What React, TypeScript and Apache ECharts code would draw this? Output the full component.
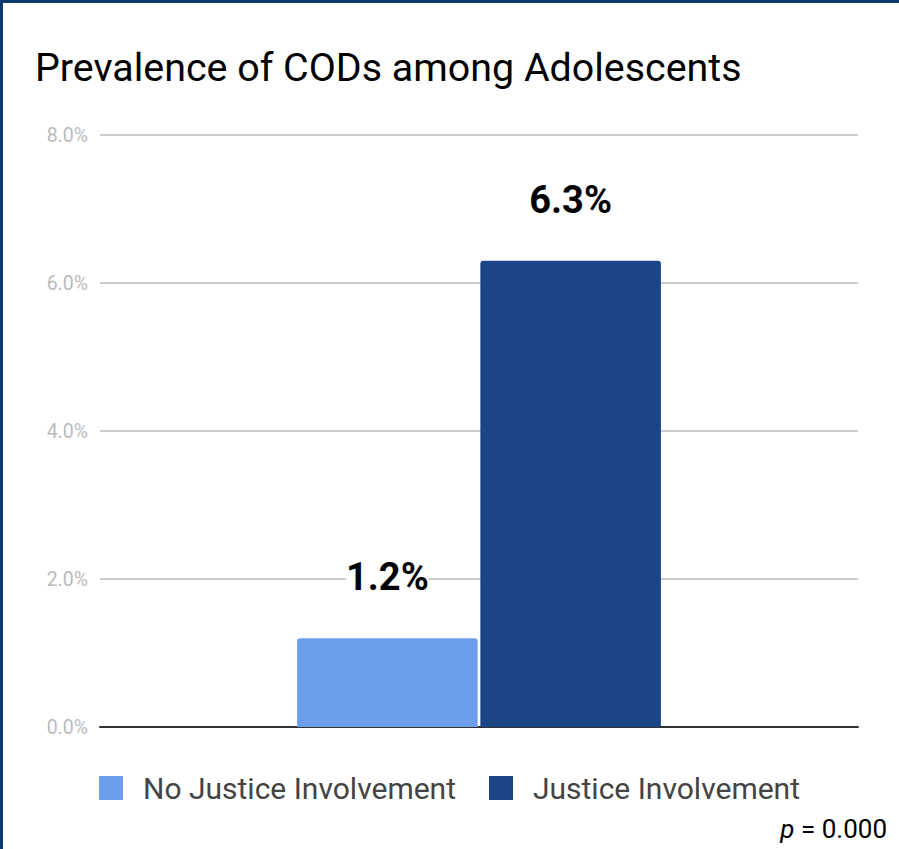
import React, { useEffect, useRef } from "react";
import * as echarts from "echarts";

const categories = ["Adolescents"];
const seriesNames = ["No Justice Involvement", "Justice Involvement"];
const noJustice = [1.2];
const justice = [6.3];
const yTicks = [0, 2, 4, 6, 8];
const colors = ["#6d9eeb", "#1c4587"];

export default function App() {
  const ref = useRef<HTMLDivElement>(null);
  useEffect(() => {
    if (!ref.current) return;
    const chart = echarts.init(ref.current, undefined, { renderer: "svg" });
    const font = "Roboto";
    const labelCfg = {
      show: true,
      position: "top" as const,
      distance: 46,
      formatter: (p: any) => Number(p.value).toFixed(1) + "%",
      fontFamily: font,
      fontWeight: "bold" as const,
      fontSize: 38,
      color: "#000",
      backgroundColor: "#fff",
      padding: [0, 0, 0, 0],
      lineHeight: 30,
    };
    chart.setOption({
      animation: false,
      backgroundColor: "#fff",
      textStyle: { fontFamily: font },
      title: {
        text: "Prevalence of CODs among Adolescents",
        left: 30,
        top: 43,
        textStyle: { fontFamily: font, fontSize: 39.4, fontWeight: "normal", color: "#000" },
      },
      legend: {
        left: 94,
        top: 768,
        itemWidth: 24,
        itemHeight: 24,
        itemGap: 33,
        icon: "rect",
        data: seriesNames,
        textStyle: { fontFamily: font, fontSize: 30, color: "#444", padding: [0, 0, 0, 15] },
      },
      grid: { left: 100, right: 41, top: 135, bottom: 122, containLabel: false },
      xAxis: {
        type: "category",
        data: categories,
        axisLabel: { show: false },
        axisTick: { show: false },
        axisLine: { lineStyle: { color: "#333", width: 2 } },
      },
      yAxis: {
        type: "value",
        min: yTicks[0],
        max: yTicks[yTicks.length - 1],
        interval: 2,
        axisLabel: {
          formatter: (v: number) => v.toFixed(1) + "%",
          fontFamily: font,
          fontSize: 19.5,
          color: "#bbbbbb",
          margin: 12,
        },
        splitLine: { lineStyle: { color: "#cccccc", width: 2 } },
        axisLine: { show: false },
        axisTick: { show: false },
      },
      series: [
        {
          name: seriesNames[0],
          type: "bar",
          data: noJustice,
          barGap: "1.5%",
          barCategoryGap: "52%",
          itemStyle: { color: colors[0], borderRadius: [3, 3, 0, 0] },
          label: labelCfg,
        },
        {
          name: seriesNames[1],
          type: "bar",
          data: justice,
          itemStyle: { color: colors[1], borderRadius: [3, 3, 0, 0] },
          label: labelCfg,
        },
      ],
      graphic: [
        { type: "rect", shape: { x: 0, y: 0, width: 3, height: 849 }, style: { fill: "#0c3a6b" } },
        { type: "rect", shape: { x: 0, y: 0, width: 899, height: 3 }, style: { fill: "#0c3a6b" } },
        {
          type: "text",
          right: 12,
          top: 816,
          style: {
            text: "{i|p} = 0.000",
            fontFamily: font,
            fontSize: 26,
            fill: "#000",
            rich: { i: { fontStyle: "italic", fontFamily: font, fontSize: 26, fill: "#000" } },
          },
        },
      ],
    });
    return () => chart.dispose();
  }, []);
  return (
    <div
      ref={ref}
      style={{ position: "fixed", left: 0, top: 0, width: 899, height: 849 }}
    />
  );
}
